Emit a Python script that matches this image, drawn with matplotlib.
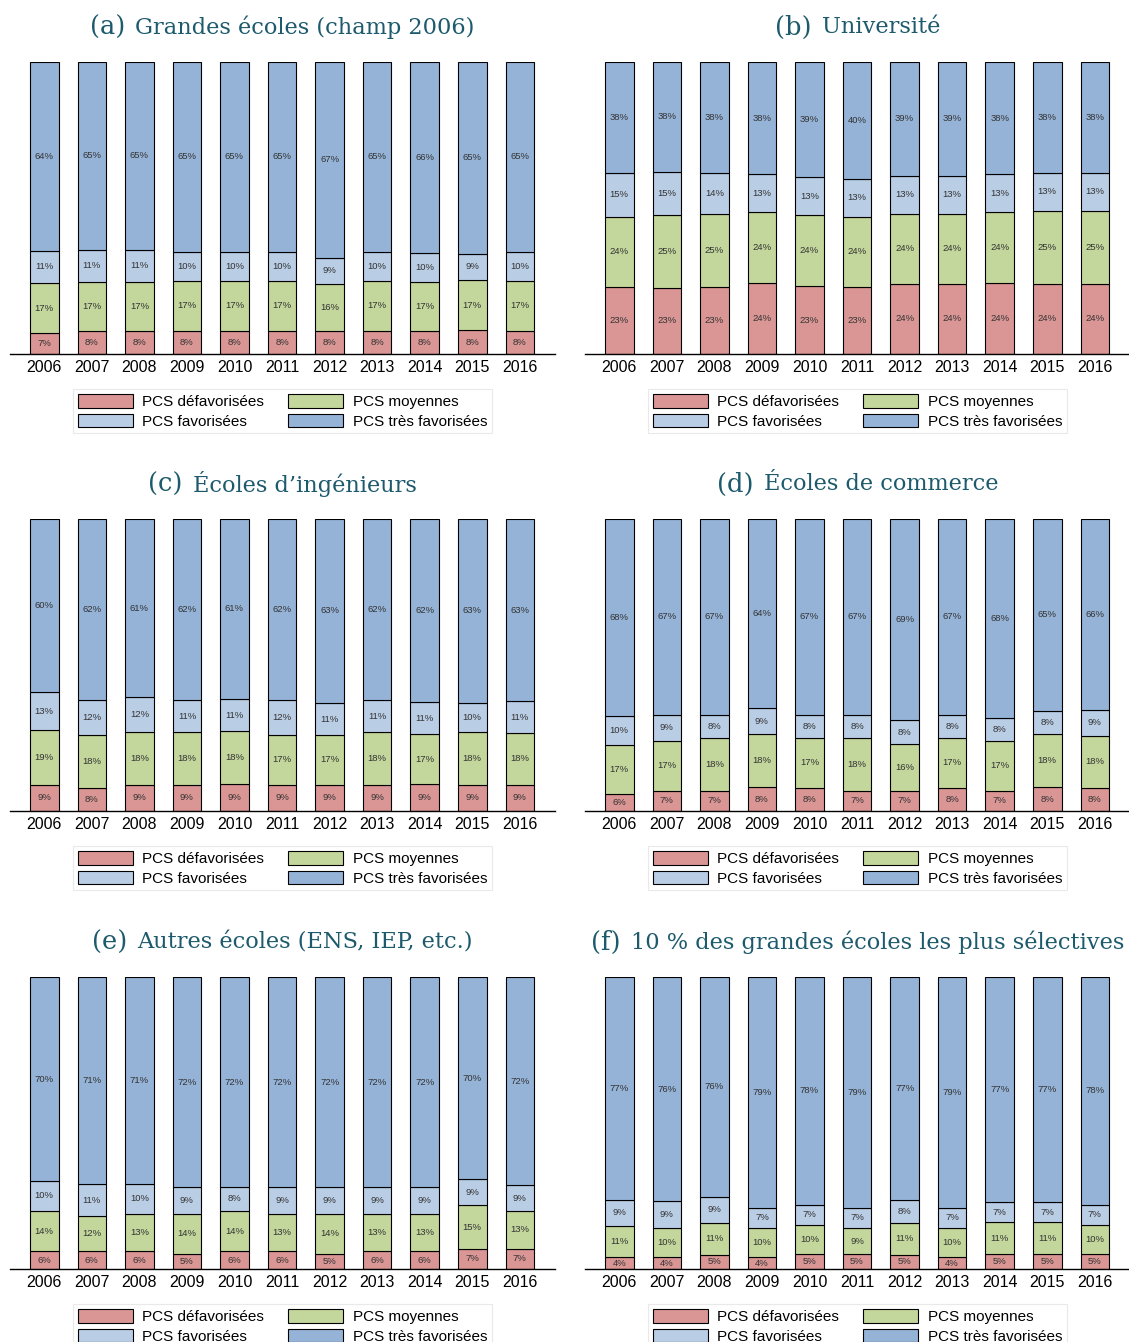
"""Origine sociale des étudiants : grandes écoles vs université, 2006-2016.

Six panneaux de barres empilées à 100 %, quatre groupes de PCS.
"""
import numpy as np
import matplotlib
matplotlib.use("Agg")
import matplotlib.pyplot as plt
from matplotlib.patches import Patch

years = ["2006", "2007", "2008", "2009", "2010", "2011",
         "2012", "2013", "2014", "2015", "2016"]
categories = ["PCS défavorisées", "PCS moyennes",
              "PCS favorisées", "PCS très favorisées"]

# (a) Grandes écoles (champ 2006)
a_defav = [7, 8, 8, 8, 8, 8, 8, 8, 8, 8, 8]
a_moy = [17, 17, 17, 17, 17, 17, 16, 17, 17, 17, 17]
a_fav = [11, 11, 11, 10, 10, 10, 9, 10, 10, 9, 10]
a_tfav = [64, 65, 65, 65, 65, 65, 67, 65, 66, 65, 65]

# (b) Université
b_defav = [23, 23, 23, 24, 23, 23, 24, 24, 24, 24, 24]
b_moy = [24, 25, 25, 24, 24, 24, 24, 24, 24, 25, 25]
b_fav = [15, 15, 14, 13, 13, 13, 13, 13, 13, 13, 13]
b_tfav = [38, 38, 38, 38, 39, 40, 39, 39, 38, 38, 38]

# (c) Écoles d'ingénieurs
c_defav = [9, 8, 9, 9, 9, 9, 9, 9, 9, 9, 9]
c_moy = [19, 18, 18, 18, 18, 17, 17, 18, 17, 18, 18]
c_fav = [13, 12, 12, 11, 11, 12, 11, 11, 11, 10, 11]
c_tfav = [60, 62, 61, 62, 61, 62, 63, 62, 62, 63, 63]

# (d) Écoles de commerce
d_defav = [6, 7, 7, 8, 8, 7, 7, 8, 7, 8, 8]
d_moy = [17, 17, 18, 18, 17, 18, 16, 17, 17, 18, 18]
d_fav = [10, 9, 8, 9, 8, 8, 8, 8, 8, 8, 9]
d_tfav = [68, 67, 67, 64, 67, 67, 69, 67, 68, 65, 66]

# (e) Autres écoles
e_defav = [6, 6, 6, 5, 6, 6, 5, 6, 6, 7, 7]
e_moy = [14, 12, 13, 14, 14, 13, 14, 13, 13, 15, 13]
e_fav = [10, 11, 10, 9, 8, 9, 9, 9, 9, 9, 9]
e_tfav = [70, 71, 71, 72, 72, 72, 72, 72, 72, 70, 72]

# (f) 10 % les plus sélectives
f_defav = [4, 4, 5, 4, 5, 5, 5, 4, 5, 5, 5]
f_moy = [11, 10, 11, 10, 10, 9, 11, 10, 11, 11, 10]
f_fav = [9, 9, 9, 7, 7, 7, 8, 7, 7, 7, 7]
f_tfav = [77, 76, 76, 79, 78, 79, 77, 79, 77, 77, 78]

letters = ["(a)", "(b)", "(c)", "(d)", "(e)", "(f)"]
titles = ["Grandes écoles (champ 2006)", "Université",
          "Écoles d’ingénieurs", "Écoles de commerce",
          "Autres écoles (ENS, IEP, etc.)",
          "10 % des grandes écoles les plus sélectives"]
panels = [
    (a_defav, a_moy, a_fav, a_tfav),
    (b_defav, b_moy, b_fav, b_tfav),
    (c_defav, c_moy, c_fav, c_tfav),
    (d_defav, d_moy, d_fav, d_tfav),
    (e_defav, e_moy, e_fav, e_tfav),
    (f_defav, f_moy, f_fav, f_tfav),
]

COLORS = ["#D99694", "#C3D69B", "#B9CDE5", "#95B3D7"]
TITLE_C = "#1d5a6c"
SANS = ["Liberation Sans", "DejaVu Sans"]
SERIF = ["DejaVu Serif"]

plt.rcParams["font.family"] = SANS

W, H = 1129, 1342
fig = plt.figure(figsize=(W / 100, H / 100), dpi=100)

col_x = [10, 585]
row_top = [62, 519, 977]
ax_w, ax_h = 545, 292


def draw(ax, series, letter, title):
    vals = np.array(series, dtype=float)
    shares = vals / vals.sum(axis=0) * 100
    x = np.arange(len(years))
    bottom = np.zeros(len(years))
    for k in range(4):
        ax.bar(x, shares[k], 0.6, bottom=bottom, color=COLORS[k],
               edgecolor="black", linewidth=0.8, zorder=2)
        for i in range(len(years)):
            ax.text(x[i], bottom[i] + shares[k][i] / 2, f"{int(vals[k][i])}%",
                    ha="center", va="center", fontsize=6.8, color="#333333",
                    zorder=3)
        bottom += shares[k]

    ax.set_xlim(-0.72, 10.74)
    ax.set_ylim(0, 100)
    ax.set_xticks(x)
    ax.set_xticklabels(years, fontsize=11.5)
    ax.tick_params(axis="x", length=0, pad=4)
    ax.set_yticks([])
    for s in ("top", "left", "right"):
        ax.spines[s].set_visible(False)
    ax.spines["bottom"].set_linewidth(1.0)

    # titre : lettre un peu plus grande, puis le libellé
    ty = 1.0 + 35 / ax_h
    t1 = ax.text(0.5, ty, letter, transform=ax.transAxes,
                 ha="left", va="center", fontsize=18.5, color=TITLE_C,
                 family=SERIF)
    t2 = ax.text(0.5, ty, title, transform=ax.transAxes,
                 ha="left", va="center", fontsize=16.2, color=TITLE_C,
                 family=SERIF)
    fig.canvas.draw()
    r = fig.canvas.get_renderer()
    gap = 10
    w1 = t1.get_window_extent(r).width + gap
    w2 = t2.get_window_extent(r).width
    axw = ax.get_window_extent(r).width
    start = 0.5 - (w1 + w2) / 2 / axw
    t1.set_x(start)
    t2.set_x(start + w1 / axw)

    handles = [Patch(facecolor=c, edgecolor="black", linewidth=0.8)
               for c in COLORS]
    order = [0, 2, 1, 3]
    leg = ax.legend([handles[i] for i in order],
                    [categories[i] for i in order],
                    loc="upper center", bbox_to_anchor=(0.5, -0.095),
                    ncol=2, fontsize=11, frameon=True, fancybox=False,
                    handlelength=3.6, handleheight=1.0, columnspacing=1.6,
                    handletextpad=0.6, labelspacing=0.3, borderpad=0.3)
    leg.get_frame().set_edgecolor("#e4e4e4")
    leg.get_frame().set_linewidth(0.8)


for idx, (series, letter, title) in enumerate(zip(panels, letters, titles)):
    r, c = divmod(idx, 2)
    left = col_x[c] / W
    bottom = 1 - (row_top[r] + ax_h) / H
    ax = fig.add_axes([left, bottom, ax_w / W, ax_h / H])
    draw(ax, series, letter, title)

fig.savefig("out.png", dpi=100)
